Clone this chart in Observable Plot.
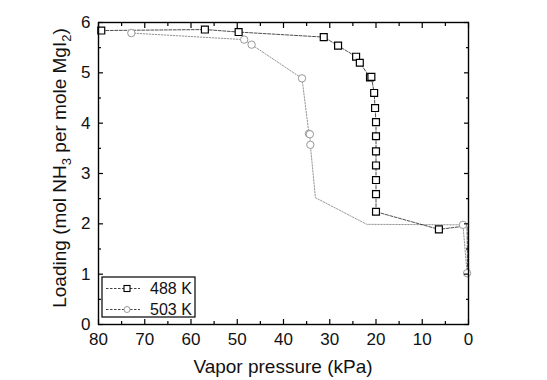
<!DOCTYPE html>
<html><head><meta charset="utf-8">
<script src="https://cdn.jsdelivr.net/npm/d3@7"></script>
<script src="https://cdn.jsdelivr.net/npm/@observablehq/plot@0.6"></script>
<style>html,body{margin:0;padding:0;background:#fff;}</style>
</head><body><div id="chart"></div>
<script>
// 488 K series (pressure kPa, loading mol/mol); marked = symbol drawn
const pressure488 = [79.4, 57.0, 49.7, 31.3, 28.2, 24.3, 23.5, 21.3, 21.0, 20.4, 20.2, 20.0, 20.0, 20.0, 20.0, 20.0, 20.0, 20.0, 6.4, 0.3, 0.2];
const loading488  = [5.84, 5.86, 5.81, 5.71, 5.54, 5.32, 5.20, 4.91, 4.92, 4.60, 4.30, 4.02, 3.74, 3.44, 3.16, 2.87, 2.59, 2.24, 1.89, 1.96, 1.00];
const marked488   = [1,1,1,1,1,1,1,1,1,1,1,1,1,1,1,1,1,1,1,0,0];
// 503 K series
const pressure503 = [72.9, 48.5, 46.9, 36.0, 34.5, 34.3, 34.2, 33.1, 22.0, 1.2, 0.3];
const loading503  = [5.79, 5.66, 5.56, 4.89, 3.79, 3.78, 3.57, 2.52, 1.99, 1.98, 1.02];
const marked503   = [1,1,1,1,1,1,1,0,0,1,1];

const xMajorTicks = [80, 70, 60, 50, 40, 30, 20, 10, 0];
const xMinorTicks = [75, 65, 55, 45, 35, 25, 15, 5];
const yMajorTicks = [0, 1, 2, 3, 4, 5, 6];
const yMinorTicks = [0.5, 1.5, 2.5, 3.5, 4.5, 5.5];
const seriesNames = ["488 K", "503 K"];
const xTitle = "Vapor pressure (kPa)";

(function () {
const s488 = pressure488.map((p, i) => ({p, l: loading488[i], m: marked488[i]}));
const s503 = pressure503.map((p, i) => ({p, l: loading503[i], m: marked503[i]}));
const none = () => "";
const font = "'Liberation Sans', Arial, sans-serif";
const ax = {fontSize: 17, tickPadding: 13, stroke: "#000", strokeWidth: 1.2, fill: "#111", label: null};

const plot = Plot.plot({
  width: 547, height: 380,
  marginLeft: 98, marginRight: 79, marginTop: 22, marginBottom: 56,
  style: {fontFamily: font, background: "#fff", color: "#111"},
  x: {domain: [80, 0]},
  y: {domain: [0, 6]},
  marks: [
    Plot.line(s503, {x: "p", y: "l", stroke: "#666", strokeWidth: 0.7, strokeDasharray: "1.5,1.5"}),
    Plot.line(s488, {x: "p", y: "l", stroke: "#222", strokeWidth: 0.8, strokeDasharray: "3,1.5"}),
    Plot.dot(s503.filter(d => d.m), {x: "p", y: "l", r: 3.7, stroke: "#999", fill: "white", strokeWidth: 1}),
    Plot.dot(s488.filter(d => d.m), {x: "p", y: "l", symbol: "square", r: 3.9, stroke: "#000", fill: "white", strokeWidth: 1.2}),
    Plot.axisX({...ax, anchor: "bottom", ticks: xMajorTicks, tickSize: -5, tickFormat: d => String(d)}),
    Plot.axisX({...ax, anchor: "bottom", ticks: xMinorTicks, tickSize: -3, tickFormat: none}),
    Plot.axisX({...ax, anchor: "top", ticks: xMajorTicks, tickSize: -5, tickFormat: none}),
    Plot.axisX({...ax, anchor: "top", ticks: xMinorTicks, tickSize: -3, tickFormat: none}),
    Plot.axisY({...ax, anchor: "left", ticks: yMajorTicks, tickSize: -5, tickFormat: d => String(d)}),
    Plot.axisY({...ax, anchor: "left", ticks: yMinorTicks, tickSize: -3, tickFormat: none}),
    Plot.axisY({...ax, anchor: "right", ticks: yMajorTicks, tickSize: -5, tickFormat: none}),
    Plot.axisY({...ax, anchor: "right", ticks: yMinorTicks, tickSize: -3, tickFormat: none}),
    Plot.frame({stroke: "#000", strokeWidth: 1.4})
  ]
});
document.getElementById("chart").appendChild(plot);

const svg = d3.select(plot);
const sx = plot.scale("x"), sy = plot.scale("y");
const xL = sx.apply(80), xR = sx.apply(0), yB = sy.apply(0), yT = sy.apply(6);

// x title
svg.append("text").attr("x", (xL + xR) / 2).attr("y", yB + 49)
  .attr("text-anchor", "middle").attr("font-size", 19).attr("font-family", font).attr("fill", "#111")
  .text(xTitle);

// y title with subscripts
const yt = svg.append("text")
  .attr("transform", `translate(${xL - 32},${(yT + yB) / 2 - 5}) rotate(-90)`)
  .attr("text-anchor", "middle").attr("font-size", 19).attr("font-family", font).attr("fill", "#111");
yt.append("tspan").text("Loading (mol NH");
yt.append("tspan").attr("font-size", 13).attr("dy", 5).text("3");
yt.append("tspan").attr("dy", -5).text(" per mole MgI");
yt.append("tspan").attr("font-size", 13).attr("dy", 5).text("2");
yt.append("tspan").attr("dy", -5).text(")");

// legend
const lg = svg.append("g").attr("transform", `translate(${xL + 4},${yB - 47})`);
lg.append("rect").attr("width", 93).attr("height", 40).attr("fill", "white").attr("stroke", "#000").attr("stroke-width", 1.2);
seriesNames.forEach((name, i) => {
  const cy = 11.5 + i * 21;
  lg.append("line").attr("x1", 4).attr("x2", 38).attr("y1", cy).attr("y2", cy)
    .attr("stroke", "#111").attr("stroke-width", 0.8).attr("stroke-dasharray", "2.5,1.5");
  if (i === 0) {
    lg.append("rect").attr("x", 25 - 3).attr("y", cy - 3).attr("width", 6).attr("height", 6)
      .attr("fill", "white").attr("stroke", "#000").attr("stroke-width", 1.1);
  } else {
    lg.append("circle").attr("cx", 25).attr("cy", cy).attr("r", 3)
      .attr("fill", "white").attr("stroke", "#999").attr("stroke-width", 1);
  }
  lg.append("text").attr("x", 48).attr("y", cy + 5.5).attr("text-anchor", "start")
    .attr("font-size", 16).attr("font-family", font).attr("fill", "#111").text(name);
});
})();
</script></body></html>
